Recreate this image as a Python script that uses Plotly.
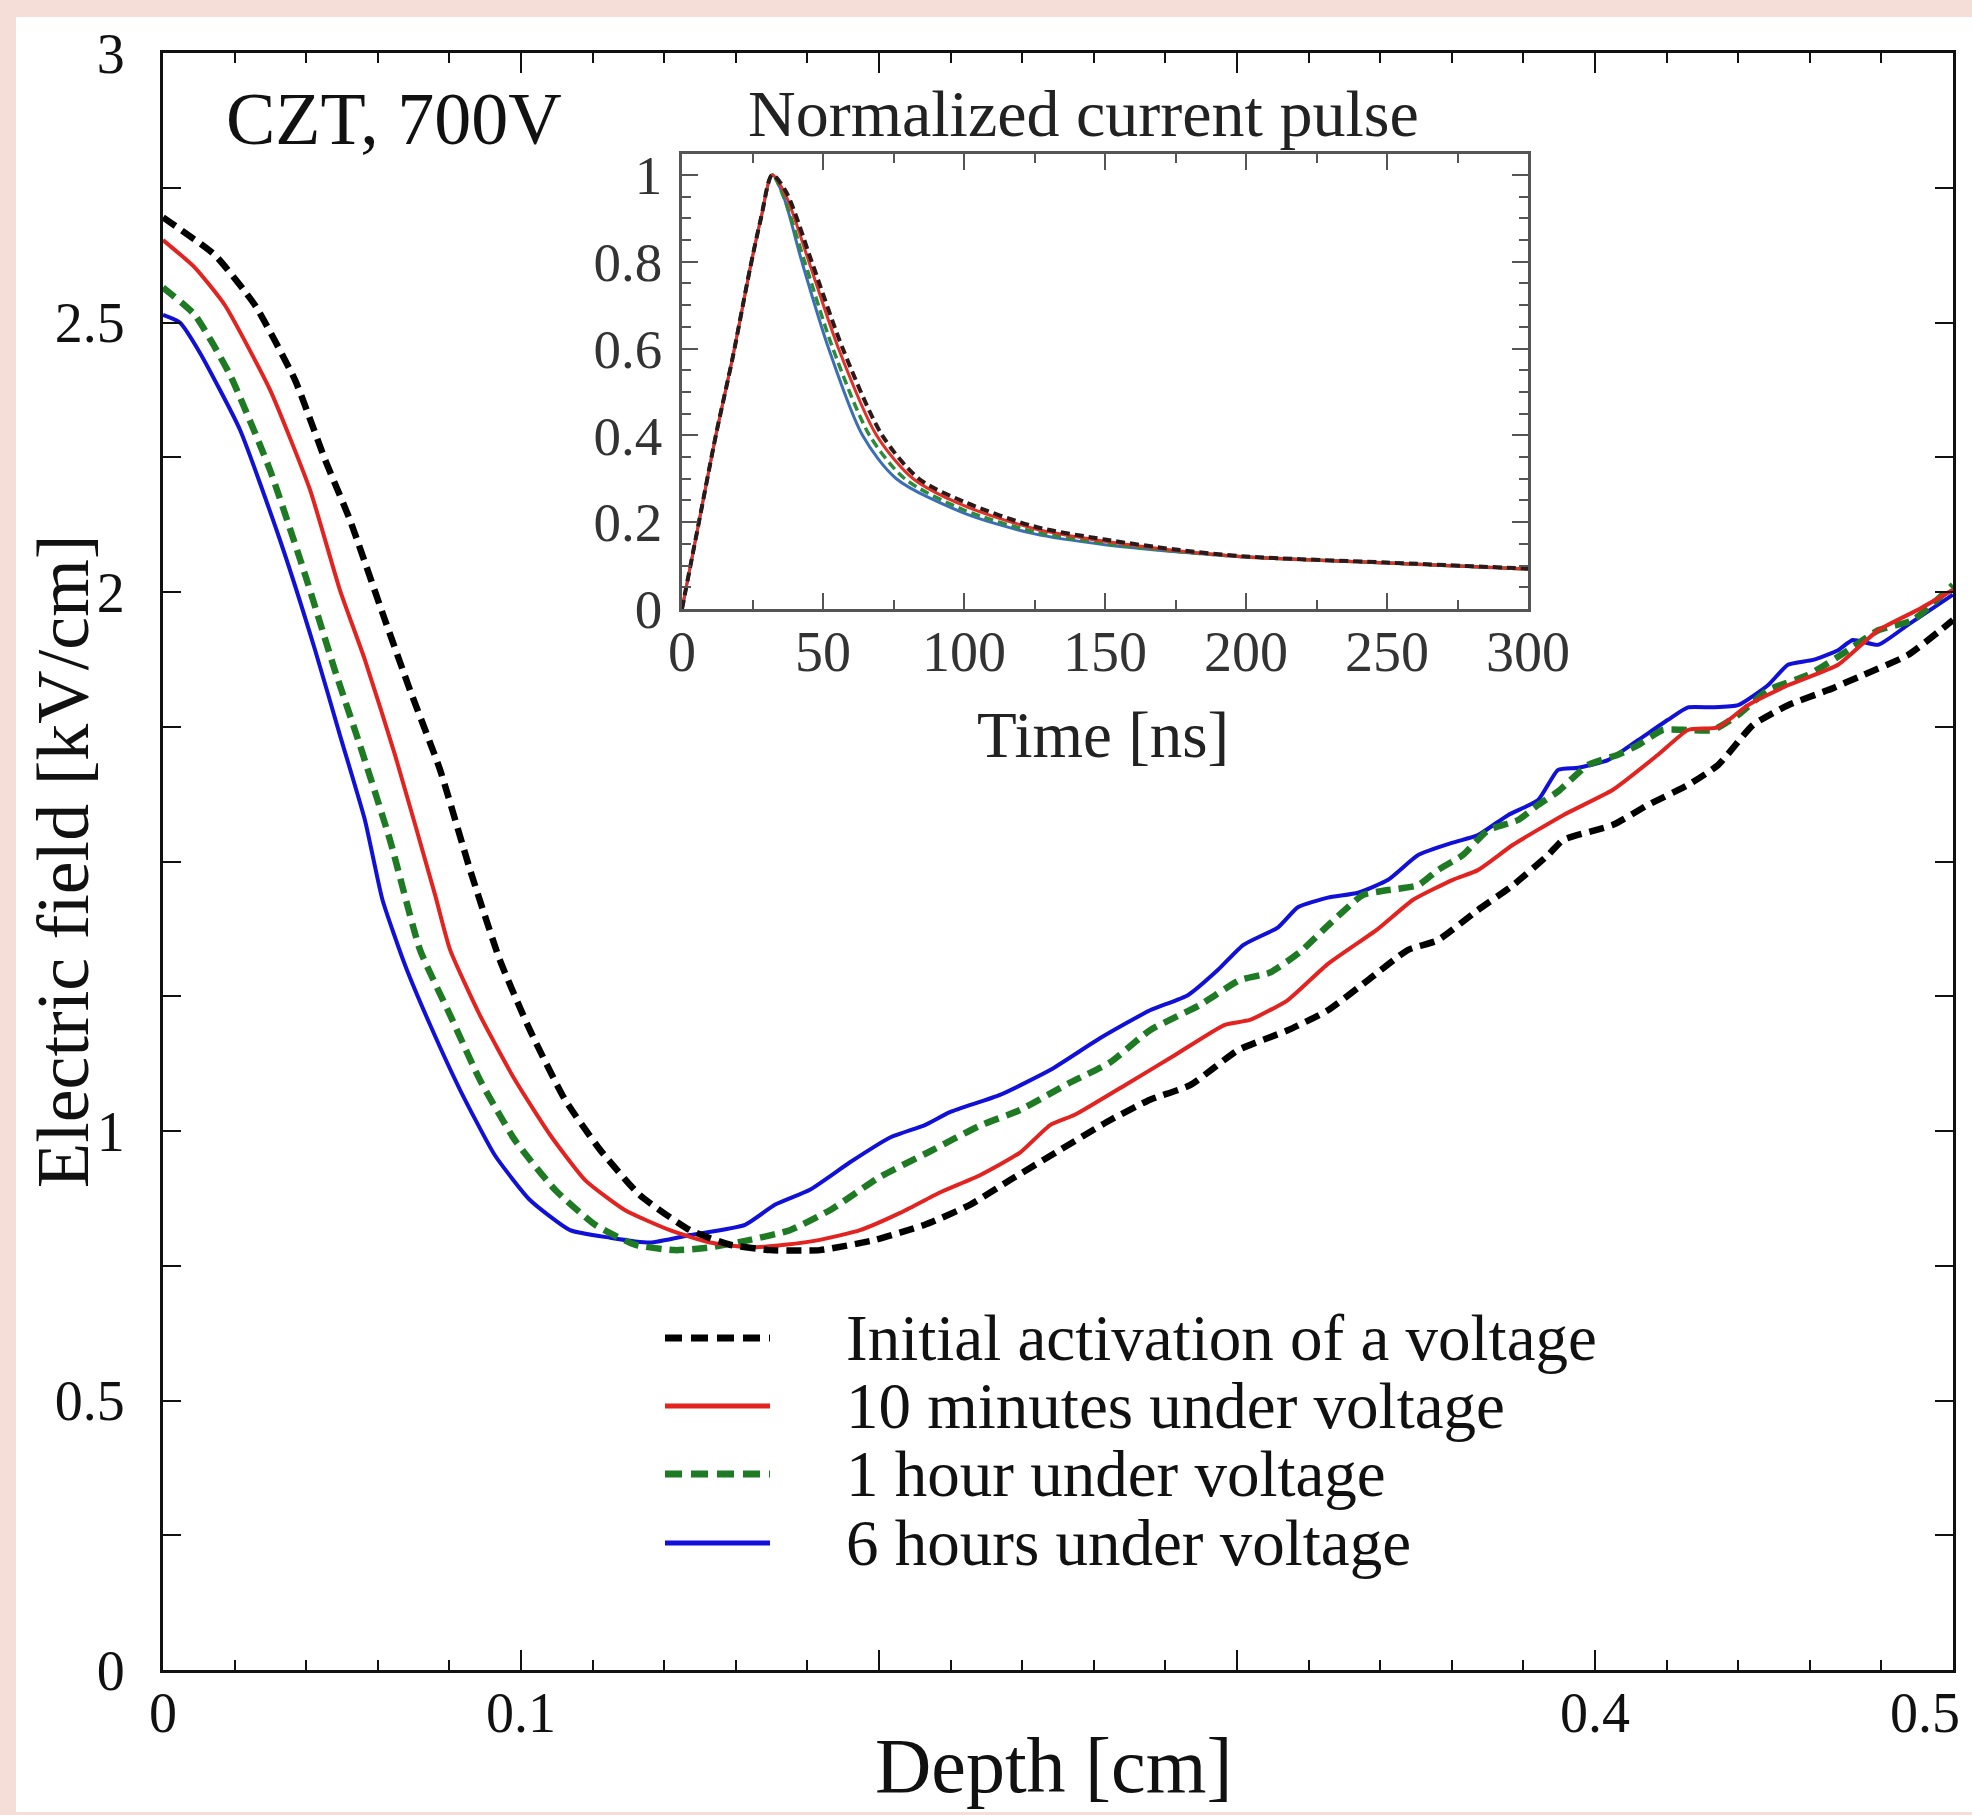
import plotly.graph_objects as go

# ---------------- data: main chart (Depth [cm] -> Electric field [kV/cm]) ----------------
depth_initial = [0.000, 0.0145, 0.0257, 0.0369, 0.0453, 0.0522, 0.062, 0.069, 0.0774, 0.0858, 0.0941,
                 0.1025, 0.1123, 0.1221, 0.1332, 0.1472, 0.1584, 0.1696, 0.1835, 0.1989, 0.2128, 0.2254,
                 0.2366, 0.2506, 0.2645, 0.2757, 0.2869, 0.3003, 0.3142, 0.3254, 0.3366, 0.3478, 0.3561,
                 0.3673, 0.3771, 0.3869, 0.3911, 0.405, 0.4148, 0.426, 0.4344, 0.4441, 0.4539, 0.4651,
                 0.4749, 0.4874, 0.5]
field_initial = [2.695, 2.625, 2.532, 2.393, 2.245, 2.134, 1.948, 1.818, 1.670, 1.484, 1.317,
                 1.187, 1.058, 0.965, 0.881, 0.816, 0.789, 0.779, 0.779, 0.798, 0.826, 0.863,
                 0.909, 0.965, 1.020, 1.058, 1.085, 1.150, 1.187, 1.224, 1.280, 1.336, 1.354,
                 1.410, 1.456, 1.512, 1.540, 1.568, 1.605, 1.642, 1.679, 1.753, 1.790, 1.818,
                 1.846, 1.883, 1.948]

depth_10min = [0.000, 0.0089, 0.0173, 0.0299, 0.0411, 0.0494, 0.0564, 0.0648, 0.076, 0.0802, 0.0885,
               0.0983, 0.1081, 0.1179, 0.1291, 0.1416, 0.1528, 0.164, 0.1737, 0.1835, 0.1947, 0.2059,
               0.217, 0.2282, 0.2394, 0.2478, 0.2547, 0.2687, 0.2827, 0.2966, 0.3036, 0.3142, 0.3254,
               0.3394, 0.3492, 0.3603, 0.3673, 0.3771, 0.3911, 0.405, 0.4176, 0.426, 0.4344, 0.4427,
               0.4539, 0.4679, 0.4791, 0.4902, 0.5]
field_10min = [2.653, 2.602, 2.532, 2.375, 2.189, 2.004, 1.874, 1.698, 1.438, 1.336, 1.215,
               1.095, 0.993, 0.909, 0.853, 0.816, 0.793, 0.784, 0.789, 0.798, 0.816, 0.848,
               0.886, 0.918, 0.960, 1.011, 1.030, 1.085, 1.141, 1.197, 1.206, 1.243, 1.310,
               1.375, 1.429, 1.466, 1.484, 1.531, 1.586, 1.633, 1.698, 1.744, 1.749, 1.790,
               1.827, 1.865, 1.929, 1.967, 2.004]

depth_1h = [0.000, 0.0089, 0.0187, 0.0299, 0.0397, 0.048, 0.055, 0.0634, 0.0718, 0.0802, 0.0885,
            0.0983, 0.1095, 0.1207, 0.1318, 0.143, 0.1528, 0.164, 0.1751, 0.1863, 0.2003, 0.2142,
            0.2282, 0.2394, 0.2534, 0.2645, 0.2757, 0.2897, 0.3008, 0.3092, 0.3176, 0.326, 0.3352,
            0.3422, 0.3506, 0.3561, 0.3631, 0.3701, 0.3785, 0.3841, 0.3897, 0.398, 0.4064, 0.412,
            0.419, 0.426, 0.433, 0.44, 0.4483, 0.4595, 0.4707, 0.4791, 0.4888, 0.5]
field_1h = [2.565, 2.514, 2.403, 2.226, 2.032, 1.855, 1.716, 1.540, 1.336, 1.215, 1.095,
            0.983, 0.891, 0.826, 0.789, 0.779, 0.784, 0.798, 0.816, 0.853, 0.915, 0.962,
            1.010, 1.039, 1.090, 1.127, 1.187, 1.234, 1.280, 1.294, 1.332, 1.385, 1.438,
            1.447, 1.456, 1.484, 1.512, 1.558, 1.577, 1.605, 1.630, 1.679, 1.698, 1.716,
            1.744, 1.744, 1.744, 1.772, 1.818, 1.846, 1.892, 1.929, 1.948, 2.013]

depth_6h = [0.000, 0.0047, 0.0103, 0.0215, 0.0327, 0.0425, 0.0494, 0.0564, 0.0613, 0.0676, 0.0746,
            0.083, 0.0927, 0.1025, 0.1137, 0.1249, 0.136, 0.1472, 0.1626, 0.1709, 0.1807, 0.1919,
            0.2031, 0.2128, 0.2198, 0.2338, 0.2478, 0.2617, 0.2757, 0.2863, 0.2947, 0.3017, 0.3115,
            0.317, 0.3254, 0.3338, 0.3422, 0.3506, 0.3603, 0.3673, 0.3757, 0.3841, 0.3897, 0.3953,
            0.4036, 0.412, 0.4204, 0.426, 0.433, 0.44, 0.4483, 0.4539, 0.4609, 0.4679, 0.472,
            0.4791, 0.4874, 0.5]
field_6h = [2.514, 2.500, 2.444, 2.301, 2.096, 1.892, 1.735, 1.577, 1.429, 1.308, 1.197,
            1.076, 0.955, 0.872, 0.816, 0.802, 0.793, 0.807, 0.826, 0.863, 0.891, 0.942,
            0.988, 1.011, 1.035, 1.067, 1.113, 1.172, 1.224, 1.252, 1.299, 1.345, 1.378,
            1.415, 1.433, 1.442, 1.466, 1.512, 1.535, 1.549, 1.586, 1.614, 1.670, 1.674,
            1.688, 1.725, 1.763, 1.786, 1.786, 1.790, 1.827, 1.865, 1.874, 1.892, 1.911,
            1.902, 1.939, 1.995]

series_names = ["Initial activation of a voltage", "10 minutes under voltage",
                "1 hour under voltage", "6 hours under voltage"]

# ---------------- data: inset (Time [ns] -> normalized current) ----------------
time_initial = [0, 6, 12, 18, 24, 28, 32, 37, 46, 57, 71, 84, 100, 125, 150, 175, 200, 250, 300]
pulse_initial = [0, 0.2, 0.4, 0.58, 0.78, 0.9, 1.0, 0.96, 0.8, 0.6, 0.4, 0.3, 0.247, 0.19, 0.16,
                 0.137, 0.121, 0.107, 0.093]
time_10min = [0, 6, 12, 18, 24, 28, 32, 37, 45, 55.5, 69, 82, 100, 125, 150, 175, 200, 250, 300]
pulse_10min = [0, 0.2, 0.4, 0.58, 0.78, 0.9, 1.0, 0.95, 0.8, 0.6, 0.4, 0.3, 0.238, 0.185, 0.156,
               0.135, 0.12, 0.106, 0.092]
time_1h = [0, 6, 12, 18, 24, 28, 32, 36, 43.5, 53.5, 66.5, 79, 100, 125, 150, 175, 200, 250, 300]
pulse_1h = [0, 0.2, 0.4, 0.58, 0.78, 0.9, 1.0, 0.95, 0.8, 0.6, 0.4, 0.3, 0.228, 0.178, 0.151,
            0.133, 0.12, 0.106, 0.092]
time_6h = [0, 6, 12, 18, 24, 28, 32, 36, 42.5, 52, 64, 76, 100, 125, 150, 175, 200, 250, 300]
pulse_6h = [0, 0.2, 0.4, 0.58, 0.78, 0.9, 1.0, 0.95, 0.8, 0.6, 0.4, 0.3, 0.221, 0.173, 0.148,
            0.132, 0.12, 0.106, 0.092]

# ---------------- tick labels ----------------
x_tickvals = [0, 0.1, 0.2, 0.3, 0.4, 0.5]
x_ticktext = ["0", "0.1", "", "", "0.4", "0.5\u2003"]
y_tickvals = [0, 0.25, 0.5, 0.75, 1, 1.25, 1.5, 1.75, 2, 2.25, 2.5, 2.75, 3]
y_ticktext = ["0", "", "0.5", "", "1", "", "", "", "2", "", "2.5", "", "3"]
inset_x_tickvals = [0, 50, 100, 150, 200, 250, 300]
inset_y_tickvals = [0, 0.2, 0.4, 0.6, 0.8, 1]

# ---------------- styling ----------------
W, H = 1972, 1815
L, R, T, B = 163, 1953, 53, 1670          # main plot area in px
FONT = "Liberation Serif"
PINK = "#f6ded8"
C_BLACK = "#000000"
C_RED = "#e2231f"
C_GREEN = "#1f7a24"
C_BLUE = "#1010d8"
DASH_MAIN = "15px,8px"


def px_x(fx):
    return (fx - L) / (R - L)


def px_y(fy):
    return (B - fy) / (B - T)


fig = go.Figure()

main_styles = [
    (depth_6h, field_6h, C_BLUE, 4, "solid", series_names[3]),
    (depth_1h, field_1h, C_GREEN, 6.5, DASH_MAIN, series_names[2]),
    (depth_10min, field_10min, C_RED, 4, "solid", series_names[1]),
    (depth_initial, field_initial, C_BLACK, 6.5, DASH_MAIN, series_names[0]),
]
for xs, ys, col, w, dash, name in main_styles:
    fig.add_trace(go.Scatter(x=xs, y=ys, mode="lines", name=name,
                             line=dict(color=col, width=w, dash=dash, shape="spline", smoothing=0.5),
                             xaxis="x", yaxis="y", showlegend=False))

inset_styles = [
    (time_6h, pulse_6h, "#3a6fb8", 3, "solid"),
    (time_1h, pulse_1h, "#2e8b3a", 3.5, "9px,5px"),
    (time_10min, pulse_10min, "#e0302a", 3, "solid"),
    (time_initial, pulse_initial, "#2b1a1a", 4, "9px,5px"),
]
for xs, ys, col, w, dash in inset_styles:
    fig.add_trace(go.Scatter(x=xs, y=ys, mode="lines",
                             line=dict(color=col, width=w, dash=dash, shape="spline", smoothing=0.8),
                             xaxis="x2", yaxis="y2", showlegend=False))

axis_common = dict(showgrid=False, zeroline=False, showline=True, mirror="ticks",
                   ticks="inside", ticklabeloverflow="allow",
                   tickfont=dict(family=FONT, size=56, color="#111"))

fig.update_layout(
    width=W, height=H,
    margin=dict(l=L, r=W - R, t=T, b=H - B, autoexpand=False),
    paper_bgcolor=PINK, plot_bgcolor="white",
    font=dict(family=FONT, color="#111"),
    showlegend=False,
    xaxis=dict(axis_common, domain=[0, 1], range=[0, 0.5], linecolor="#111", linewidth=3,
               tickmode="array", tickvals=x_tickvals, ticktext=x_ticktext,
               ticklen=20, tickwidth=2, tickcolor="#111", ticklabelstandoff=-8,
               minor=dict(tickmode="linear", tick0=0, dtick=0.02, ticklen=10, tickwidth=2,
                          tickcolor="#111", ticks="inside")),
    yaxis=dict(axis_common, domain=[0, 1], range=[0, 3], linecolor="#111", linewidth=3,
               tickmode="array", tickvals=y_tickvals, ticktext=y_ticktext,
               ticklen=18, tickwidth=2, tickcolor="#111", ticklabelstandoff=24),
    xaxis2=dict(axis_common, anchor="y2", domain=[px_x(682), px_x(1528)], range=[0, 300],
                linecolor="#555", linewidth=2.5, tickcolor="#555",
                tickmode="array", tickvals=inset_x_tickvals, ticklen=16, tickwidth=2,
                tickfont=dict(family=FONT, size=56, color="#333"), ticklabelstandoff=-8,
                minor=dict(tickmode="linear", tick0=0, dtick=25, ticklen=9, tickwidth=2,
                           tickcolor="#555", ticks="inside")),
    yaxis2=dict(axis_common, anchor="x2", domain=[px_y(609), px_y(154)], range=[0, 1.048],
                linecolor="#555", linewidth=2.5, tickcolor="#555",
                tickmode="array", tickvals=inset_y_tickvals, ticklen=16, tickwidth=2,
                tickfont=dict(family=FONT, size=55, color="#333"), ticklabelstandoff=6,
                minor=dict(tickmode="linear", tick0=0, dtick=0.05, ticklen=9, tickwidth=2,
                           tickcolor="#555", ticks="inside")),
)

shapes = [
    # white card on the pink page
    dict(type="rect", xref="paper", yref="paper", layer="below",
         x0=px_x(16), x1=px_x(1980), y0=px_y(1812), y1=px_y(17),
         fillcolor="white", line=dict(width=0)),
]

annotations = [
    dict(text="Depth [cm]", x=px_x(1053), y=px_y(1766), font=dict(size=78)),
    dict(text="Electric field [kV/cm]", x=px_x(63), y=px_y(862), textangle=-90,
         font=dict(size=74)),
    dict(text="CZT, 700V", x=px_x(394), y=px_y(119), font=dict(size=74)),
    dict(text="Normalized current pulse", x=px_x(1083), y=px_y(114),
         font=dict(size=66, color="#222")),
    dict(text="Time [ns]", x=px_x(1103), y=px_y(735), font=dict(size=65, color="#222")),
]

# legend (drawn as decoration)
legend_rows = [1338, 1406, 1474, 1543]
legend_styles = [(C_BLACK, 7, "17px,9px"), (C_RED, 5, "solid"),
                 (C_GREEN, 7, "17px,9px"), (C_BLUE, 5, "solid")]
for row_y, (col, w, dash), name in zip(legend_rows, legend_styles, series_names):
    shapes.append(dict(type="line", xref="paper", yref="paper",
                       x0=px_x(665), x1=px_x(770), y0=px_y(row_y), y1=px_y(row_y),
                       line=dict(color=col, width=w, dash=dash)))
    annotations.append(dict(text=name, x=px_x(844), y=px_y(row_y), xanchor="left",
                            font=dict(size=65)))

for a in annotations:
    a.setdefault("xref", "paper")
    a.setdefault("yref", "paper")
    a.setdefault("showarrow", False)
    a.setdefault("xanchor", "center")
    a.setdefault("yanchor", "middle")
    a["font"] = dict(dict(family=FONT, color="#111"), **a["font"])

fig.update_layout(shapes=shapes, annotations=annotations)

fig.write_html("out.html", config={"displayModeBar": False},
               post_script="document.body.style.margin='0px';document.body.style.overflow='hidden';")
